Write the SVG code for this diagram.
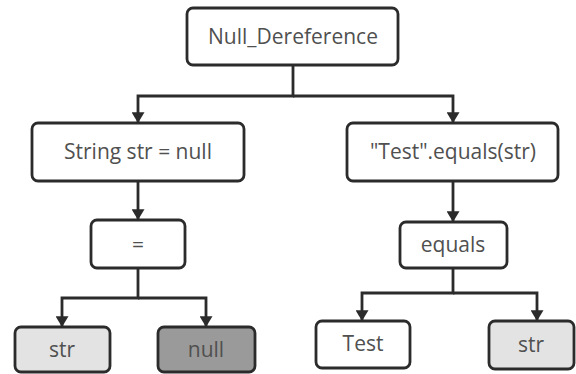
<svg xmlns="http://www.w3.org/2000/svg" width="576" height="374" viewBox="0 0 576 374">
  <style>
    .box { fill: #ffffff; stroke: #2b2b2b; stroke-width: 2.8; }
    .light { fill: #e3e3e3; }
    .dark { fill: #9a9a9a; }
    .label { font-family: "Open Sans", "Liberation Sans", sans-serif; font-size: 21px; fill: #505050; text-anchor: middle; dominant-baseline: central; }
    .edge { fill: none; stroke: #2b2b2b; stroke-width: 2.8; }
  </style>
  <defs>
    <marker id="arrow" viewBox="0 0 10 12" refX="10" refY="6" markerWidth="16" markerHeight="13" markerUnits="userSpaceOnUse" orient="auto">
      <path d="M0,0 L10,6 L0,12 Z" fill="#2b2b2b"/>
    </marker>
  </defs>

  <rect width="576" height="374" fill="#ffffff"/>

  <g id="connectors">
    <path class="edge" d="M293,65 V96 H138 V123" marker-end="url(#arrow)"/>
    <path class="edge" d="M293,96 H453 V123" marker-end="url(#arrow)"/>
    <path class="edge" d="M138,181 V220" marker-end="url(#arrow)"/>
    <path class="edge" d="M453,181 V222" marker-end="url(#arrow)"/>
    <path class="edge" d="M138,268 V298 H62 V327" marker-end="url(#arrow)"/>
    <path class="edge" d="M138,298 H206 V327" marker-end="url(#arrow)"/>
    <path class="edge" d="M453,268 V293 H362 V321" marker-end="url(#arrow)"/>
    <path class="edge" d="M453,293 H537 V321" marker-end="url(#arrow)"/>
  </g>

  <g id="null-dereference">
    <rect class="box" x="187" y="8" width="211" height="57" rx="6"/>
    <text class="label" x="293" y="36">Null_Dereference</text>
  </g>
  <g id="string-decl">
    <rect class="box" x="32" y="123" width="212" height="58" rx="6"/>
    <text class="label" x="138" y="151">String str = null</text>
  </g>
  <g id="equals-call">
    <rect class="box" x="347" y="123" width="211" height="58" rx="6"/>
    <text class="label" x="453" y="151">"Test".equals(str)</text>
  </g>
  <g id="assign-op">
    <rect class="box" x="91" y="220" width="94" height="48" rx="6"/>
    <text class="label" x="138" y="244">=</text>
  </g>
  <g id="equals-op">
    <rect class="box" x="400" y="222" width="107" height="46" rx="6"/>
    <text class="label" x="453" y="244">equals</text>
  </g>
  <g id="str-left">
    <rect class="box light" x="15" y="327" width="95" height="45" rx="6"/>
    <text class="label" x="62" y="349">str</text>
  </g>
  <g id="null-value">
    <rect class="box dark" x="158" y="327" width="97" height="45" rx="6"/>
    <text class="label" x="206" y="349">null</text>
  </g>
  <g id="test-value">
    <rect class="box" x="316" y="321" width="94" height="47" rx="6"/>
    <text class="label" x="363" y="343">Test</text>
  </g>
  <g id="str-right">
    <rect class="box light" x="489" y="321" width="85" height="48" rx="6"/>
    <text class="label" x="531" y="344">str</text>
  </g>
</svg>
